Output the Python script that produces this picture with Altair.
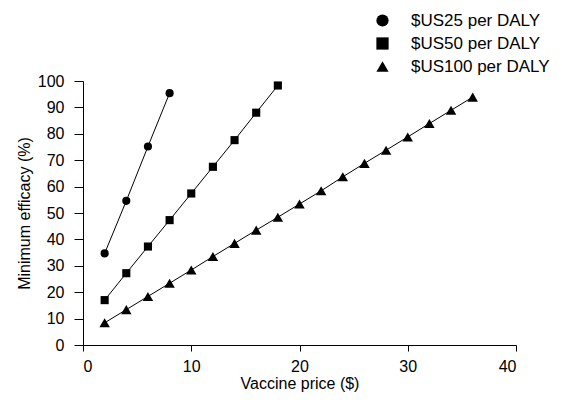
import altair as alt
import pandas as pd

series_names = ["$US25 per DALY", "$US50 per DALY", "$US100 per DALY"]

price_25 = [2, 4, 6, 8]
eff_25 = [34.7, 54.6, 75.2, 95.4]

price_50 = [2, 4, 6, 8, 10, 12, 14, 16, 18]
eff_50 = [17.0, 27.2, 37.3, 47.3, 57.4, 67.5, 77.6, 88.0, 98.3]

price_100 = [2, 4, 6, 8, 10, 12, 14, 16, 18, 20, 22, 24, 26, 28, 30, 32, 34, 36]
eff_100 = [8.4, 13.4, 18.4, 23.4, 28.4, 33.5, 38.5, 43.5, 48.4,
           53.4, 58.4, 63.7, 68.8, 73.8, 78.8, 83.9, 88.9, 93.9]

x_ticks = [0, 10, 20, 30, 40]
y_ticks = [0, 10, 20, 30, 40, 50, 60, 70, 80, 90, 100]

rows = []
for name, xs, ys in zip(series_names, [price_25, price_50, price_100], [eff_25, eff_50, eff_100]):
    for xv, yv in zip(xs, ys):
        rows.append({"series": name, "price": xv, "efficacy": yv})
df = pd.DataFrame(rows)

FONT = "Liberation Sans"

x_enc = alt.X("price:Q", scale=alt.Scale(domain=[0, 40], nice=False),
              axis=alt.Axis(values=x_ticks, title="Vaccine price ($)",
                            tickSize=6, labelPadding=7, titlePadding=1))
y_enc = alt.Y("efficacy:Q", scale=alt.Scale(domain=[0, 100], nice=False),
              axis=alt.Axis(values=y_ticks, title="Minimum efficacy (%)",
                            tickSize=9, labelPadding=10, titlePadding=5))

base = alt.Chart(df)

lines = base.mark_line(color="black", strokeWidth=1).encode(
    x=x_enc, y=y_enc, detail="series:N"
)

points = base.transform_filter(
    alt.datum.series != series_names[2]
).mark_point(filled=True, color="black", opacity=1, size=66).encode(
    x=x_enc, y=y_enc,
    shape=alt.Shape("series:N",
                    scale=alt.Scale(domain=series_names, range=["circle", "square", "triangle-up"]),
                    legend=alt.Legend(title=None, orient="none", legendX=291, legendY=-69,
                                      symbolSize=150, symbolFillColor="black",
                                      symbolStrokeColor="black", labelFontSize=17,
                                      labelFont=FONT, labelColor="black",
                                      labelOffset=20, rowPadding=4))
)

triangles = base.transform_filter(
    alt.datum.series == series_names[2]
).mark_point(filled=True, color="black", opacity=1, size=110, shape="triangle-up").encode(
    x=x_enc, y=y_enc
)

chart = alt.layer(lines, points, triangles).properties(
    width=433, height=264,
    autosize=alt.AutoSizeParams(type="none"),
    padding={"left": 75, "top": 73, "right": 38, "bottom": 50},
).configure_view(stroke=None).configure_axis(
    grid=False, domainColor="black", tickColor="black", labelColor="black",
    titleColor="black", labelFontSize=16, titleFontSize=16,
    titleFontWeight="normal", labelFont=FONT, titleFont=FONT,
    domainWidth=1, tickWidth=1
)

chart.save("out.html", embed_options={"renderer": "svg", "actions": False})
